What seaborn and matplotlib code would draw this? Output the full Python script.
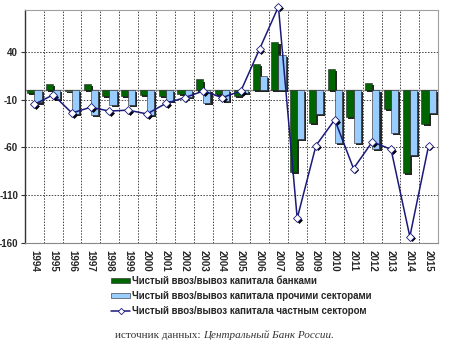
import numpy as np
import pandas as pd
import matplotlib
matplotlib.use("Agg")
import matplotlib.pyplot as plt
import matplotlib.patheffects as pe
from matplotlib.patches import Patch
from matplotlib.lines import Line2D
from matplotlib.transforms import ScaledTranslation
import seaborn as sns

# ---- data ----
years = [str(y) for y in range(1994, 2016)]
banks = [-3, 6, -1, 6, -6, -6, -5, -6, -4, 11, -4, -6, 27, 50, -86, -34, 22, -28, 7, -20, -87, -35]
other = [-13, -9, -25, -26, -16, -16, -26, -11, -7, -14, -11, -3, 15, 37, -51, -25, -55, -55, -62, -45, -68, -24]
private = [-15, -5, -24, -18, -22, -21, -25, -14, -8, -1, -8, -1, 43, 87, -134, -58, -31, -82, -54, -62, -153, -58]
series_names = [
    "Чистый ввоз/вывоз капитала банками",
    "Чистый ввоз/вывоз капитала прочими секторами",
    "Чистый ввоз/вывоз капитала частным сектором",
]
y_ticks = [40, -10, -60, -110, -160]
source_plain = "источник данных: "
source_italic = "Центральный Банк России."

sns.set_style("white")
plt.rcParams['font.family'] = ['Liberation Sans', 'DejaVu Sans']

W, H = 452, 348
fig = plt.figure(figsize=(W / 100, H / 100), dpi=100)
ax = fig.add_axes([25 / W, 1 - 243.3 / H, (438 - 25) / W, (243.3 - 10) / H])

green = "#006400"
blue = "#99ccff"
navy = "#1a1a7a"

df = pd.DataFrame({
    "year": years * 2,
    "value": banks + other,
    "series": [series_names[0]] * len(years) + [series_names[1]] * len(years),
})
sns.barplot(data=df, x="year", y="value", hue="series", order=years,
            hue_order=series_names[:2], palette=[green, blue], width=0.76,
            saturation=1, edgecolor="#222222", linewidth=0.4, errorbar=None,
            legend=False, ax=ax, zorder=3)
shadow = [pe.SimplePatchShadow(offset=(1.5, -1.5), shadow_rgbFace="black", alpha=0.85), pe.Normal()]
for p in ax.patches:
    p.set_path_effects(shadow)

# marker shadow
sns.pointplot(x=years, y=private, order=years, color="black", errorbar=None, ax=ax)
sl = ax.lines[-1]
sl.set_linestyle("none")
sl.set_marker("D")
sl.set_markersize(3.0)
sl.set_markerfacecolor("black")
sl.set_markeredgecolor("black")
sl.set_markeredgewidth(0.5)
sl.set_transform(ax.transData + ScaledTranslation(1.3 / 72, -1.3 / 72, fig.dpi_scale_trans))
sl.set_clip_on(False)
sl.set_zorder(5)

sns.pointplot(x=years, y=private, order=years, color=navy, errorbar=None, ax=ax)
ln = ax.lines[-1]
ln.set_linewidth(1.1)
ln.set_marker("D")
ln.set_markersize(3.6)
ln.set_markerfacecolor("white")
ln.set_markeredgecolor(navy)
ln.set_markeredgewidth(0.6)
ln.set_clip_on(False)
ln.set_zorder(6)

ax.axhline(0, color="#8a8a8a", lw=1.0, zorder=2)

ax.set_ylim(-160, 83.5)
ax.set_xlim(-0.5, len(years) - 0.5)
ax.set_yticks(y_ticks)
ax.set_yticklabels([str(t) for t in y_ticks], fontweight="bold", fontsize=7)
ax.set_xticks(range(len(years)))
ax.set_xticklabels(years, rotation=-90, fontweight="bold", fontsize=7, va="top", ha="center")
ax.set_xticks(np.arange(0.5, len(years) - 1, 1), minor=True)
ax.set_xlabel("")
ax.set_ylabel("")
ax.grid(axis="y", which="major", color="#444444", linestyle=(0, (1.5, 1.5)), linewidth=0.7, zorder=1)
ax.grid(axis="x", which="minor", color="#444444", linestyle=(0, (1.5, 1.5)), linewidth=0.7, zorder=1)
ax.grid(axis="x", which="major", visible=False)
ax.set_axisbelow(True)
ax.tick_params(axis="x", which="both", length=0, pad=5, bottom=False)
ax.tick_params(axis="y", which="major", left=True, length=3, width=0.8, pad=2, color="#333333")

ax.spines["left"].set_color("#333333")
ax.spines["left"].set_linewidth(1.0)
for s in ["top", "right"]:
    ax.spines[s].set_color("#a0a0a0")
    ax.spines[s].set_linewidth(0.8)
ax.spines["bottom"].set_color("#888888")
ax.spines["bottom"].set_linewidth(0.8)

handles = [
    Patch(facecolor=green, edgecolor="#222222", lw=0.4),
    Patch(facecolor=blue, edgecolor="#222222", lw=0.4),
    Line2D([], [], color=navy, lw=1.1, marker="D", markersize=3.2, mfc="white", mec=navy, mew=0.6),
]
fig.legend(handles, series_names, loc="upper left", bbox_to_anchor=(111 / W, 1 - 276 / H),
           frameon=False, prop={"weight": "bold", "size": 7}, handlelength=2.0,
           handleheight=0.45, handletextpad=0.15, labelspacing=0.5, borderpad=0,
           borderaxespad=0)

t1 = fig.text(115 / W, 1 - 335 / H, source_plain, family="Liberation Serif", fontsize=8,
              color="#333333", va="center", ha="left")
ax.annotate(source_italic, xy=(1, 0.5), xycoords=t1, va="center", ha="left",
            family="Liberation Serif", style="italic", fontsize=8, color="#333333",
            annotation_clip=False)

fig.savefig("out.png", dpi=100)
